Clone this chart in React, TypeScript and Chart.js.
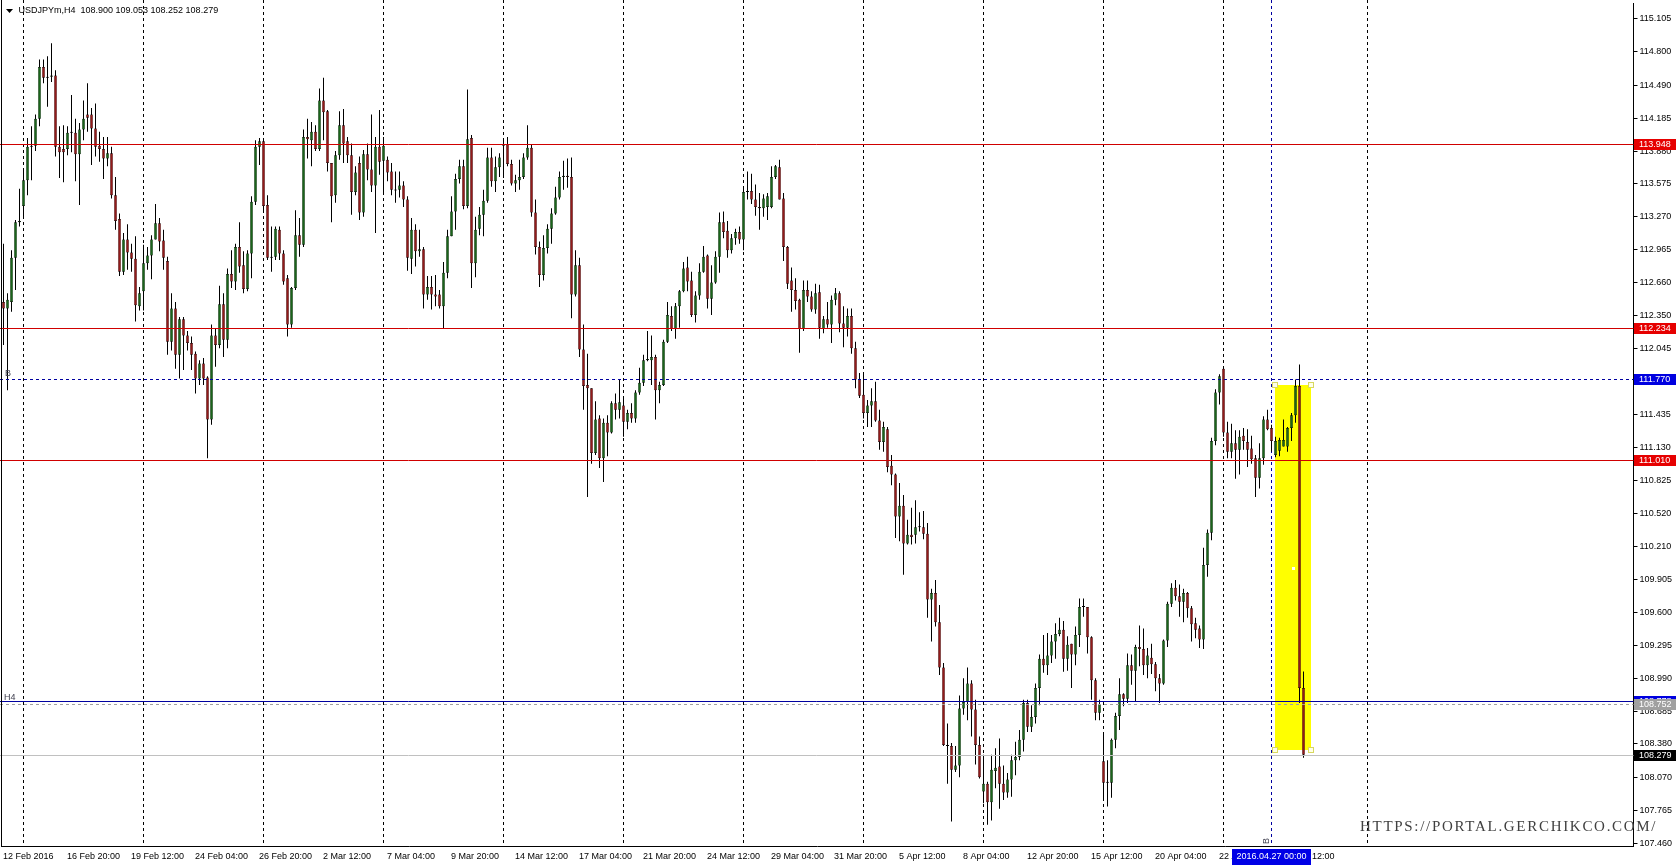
import React, { useEffect, useRef } from 'react';
import { Chart, registerables } from 'chart.js';

Chart.register(...registerables);

// ---------------- data ----------------
const SYMBOL_HEADER = 'USDJPYm,H4  108.900 109.053 108.252 108.279';

const OPEN = [
  112.48, 112.42, 112.48, 112.89, 113.22, 113.37, 113.61, 113.92, 113.93, 114.18,
  114.66, 114.56, 114.57, 114.58, 113.92, 113.90, 113.90, 114.05, 114.05, 113.85,
  114.08, 114.22, 114.22, 114.09, 113.93, 113.90, 113.81, 113.86, 113.47, 113.25,
  112.76, 113.06, 112.94, 112.88, 112.44, 112.58, 112.84, 112.91, 113.06, 113.21,
  113.05, 112.86, 112.11, 112.42, 111.99, 112.32, 112.17, 112.10, 112.00, 111.77,
  111.91, 111.78, 111.39, 112.17, 112.08, 112.46, 112.13, 112.74, 112.67, 112.99,
  112.82, 112.60, 112.93, 113.41, 113.92, 113.97, 113.38, 112.90, 112.90, 113.15,
  112.93, 112.70, 112.27, 112.61, 113.10, 113.01, 114.01, 113.98, 114.06, 113.90,
  114.35, 114.25, 113.77, 113.47, 113.84, 114.12, 113.97, 113.84, 113.50, 113.77,
  113.31, 113.85, 113.71, 113.56, 113.92, 113.79, 113.80, 113.69, 113.52, 113.52,
  113.56, 113.43, 112.88, 113.15, 112.95, 112.97, 112.55, 112.62, 112.55, 112.55,
  112.44, 112.75, 113.09, 113.32, 113.62, 113.74, 113.37, 114.00, 112.84, 113.16,
  113.29, 113.42, 113.82, 113.60, 113.73, 113.93, 113.94, 113.76, 113.58, 113.61,
  113.64, 113.82, 113.91, 113.31, 112.99, 112.73, 112.98, 113.16, 113.30, 113.45,
  113.64, 113.65, 113.64, 112.55, 112.82, 112.04, 111.71, 111.68, 111.08, 111.40,
  111.03, 111.36, 111.27, 111.54, 111.48, 111.52, 111.37, 111.45, 111.40, 111.64,
  111.73, 111.94, 111.94, 111.97, 111.66, 111.71, 112.11, 112.35, 112.23, 112.44,
  112.58, 112.80, 112.68, 112.36, 112.54, 112.76, 112.91, 112.51, 112.66, 112.90,
  113.22, 113.14, 112.96, 113.07, 113.13, 113.06, 113.50, 113.51, 113.43, 113.36,
  113.35, 113.36, 113.36, 113.64, 113.73, 113.44, 112.99, 112.68, 112.59, 112.50,
  112.23, 112.59, 112.53, 112.41, 112.57, 112.23, 112.32, 112.27, 112.50, 112.56,
  112.28, 112.24, 112.35, 112.05, 111.76, 111.62, 111.45, 111.52, 111.56, 111.38,
  111.18, 111.30, 110.96, 110.88, 110.49, 110.59, 110.24, 110.32, 110.32, 110.39,
  110.39, 110.33, 109.72, 109.78, 109.51, 109.09, 108.37, 108.36, 108.14, 108.18,
  108.71, 108.77, 108.94, 108.70, 108.37, 107.94, 108.01, 107.84, 108.13, 108.17,
  108.01, 107.93, 108.05, 108.23, 108.26, 108.42, 108.76, 108.54, 108.63, 108.90,
  109.17, 109.11, 109.20, 109.33, 109.40, 109.44, 109.17, 109.31, 109.21, 109.39,
  109.65, 109.65, 109.37, 108.97, 108.67, 108.22, 108.02, 108.02, 108.42, 108.64,
  108.84, 108.80, 109.11, 109.06, 109.28, 109.26, 109.11, 109.18, 109.12, 108.99,
  108.94, 109.34, 109.68, 109.83, 109.75, 109.70, 109.78, 109.64, 109.50, 109.45,
  109.35, 110.04, 110.34, 111.19, 111.64, 111.86, 111.27, 111.09, 111.17, 111.11,
  111.24, 111.18, 111.12, 111.03, 110.85, 111.03, 111.39, 111.31, 111.06, 111.10,
  111.14, 111.14, 111.31, 111.43, 111.70, 108.900,
];

const HIGH = [
  113.02, 112.56, 112.96, 113.24, 113.53, 113.70, 114.00, 114.11, 114.22, 114.73,
  114.73, 114.76, 114.88, 114.63, 114.11, 114.12, 114.11, 114.40, 114.18, 114.14,
  114.35, 114.51, 114.28, 114.32, 114.06, 114.01, 114.01, 113.92, 113.64, 113.30,
  113.12, 113.20, 113.02, 113.09, 112.62, 113.01, 112.99, 113.10, 113.39, 113.26,
  113.15, 112.90, 112.56, 112.48, 112.34, 112.34, 112.21, 112.16, 112.02, 111.94,
  111.96, 111.79, 112.27, 112.23, 112.63, 112.56, 112.79, 112.96, 113.02, 113.22,
  112.95, 112.96, 113.46, 113.98, 114.00, 113.98, 113.47, 113.18, 113.18, 113.18,
  112.96, 112.73, 112.62, 113.33, 113.26, 114.08, 114.18, 114.15, 114.12, 114.46,
  114.56, 114.26, 113.77, 113.88, 114.25, 114.27, 114.01, 113.95, 113.74, 113.83,
  113.89, 113.95, 114.22, 114.01, 114.26, 114.01, 113.83, 113.77, 113.69, 113.69,
  113.60, 113.46, 113.26, 113.20, 113.15, 112.99, 112.72, 112.72, 112.73, 112.59,
  112.85, 113.15, 113.46, 113.67, 113.80, 113.80, 114.45, 114.03, 113.27, 113.36,
  113.52, 113.91, 113.91, 113.83, 113.86, 113.98, 114.01, 113.80, 113.66, 113.80,
  113.86, 114.12, 113.94, 113.43, 113.04, 113.10, 113.20, 113.35, 113.55, 113.69,
  113.79, 113.81, 113.82, 112.96, 112.89, 112.27, 112.00, 111.68, 111.56, 111.43,
  111.40, 111.43, 111.56, 111.63, 111.76, 111.60, 111.48, 111.54, 111.66, 111.87,
  111.99, 112.21, 112.17, 111.99, 111.74, 112.13, 112.48, 112.44, 112.47, 112.59,
  112.85, 112.90, 112.76, 112.58, 112.84, 113.00, 112.92, 112.82, 112.95, 113.31,
  113.32, 113.23, 113.11, 113.16, 113.18, 113.55, 113.69, 113.67, 113.57, 113.49,
  113.48, 113.49, 113.74, 113.75, 113.80, 113.49, 113.00, 112.80, 112.70, 112.51,
  112.68, 112.68, 112.58, 112.65, 112.64, 112.35, 112.48, 112.54, 112.61, 112.58,
  112.44, 112.42, 112.42, 112.11, 111.82, 111.82, 111.57, 111.68, 111.74, 111.48,
  111.37, 111.32, 111.06, 110.89, 110.80, 110.69, 110.46, 110.57, 110.64, 110.53,
  110.54, 110.43, 109.82, 109.90, 109.67, 109.13, 108.57, 108.39, 108.36, 108.83,
  108.99, 109.09, 108.97, 108.79, 108.45, 108.28, 108.03, 108.28, 108.34, 108.43,
  108.18, 108.11, 108.28, 108.40, 108.51, 108.79, 108.79, 108.74, 108.94, 109.21,
  109.39, 109.41, 109.39, 109.50, 109.55, 109.52, 109.38, 109.31, 109.47, 109.73,
  109.73, 109.65, 109.38, 108.99, 108.79, 108.48, 108.23, 108.43, 108.67, 108.99,
  108.85, 109.22, 109.21, 109.30, 109.48, 109.45, 109.27, 109.31, 109.14, 109.03,
  109.35, 109.70, 109.87, 109.90, 109.86, 109.82, 109.79, 109.66, 109.55, 109.48,
  110.20, 110.37, 111.22, 111.67, 111.81, 111.87, 111.37, 111.35, 111.29, 111.29,
  111.31, 111.30, 111.24, 111.06, 111.17, 111.42, 111.48, 111.34, 111.23, 111.22,
  111.39, 111.32, 111.45, 111.76, 111.90, 109.053,
];

const LOW = [
  112.08, 111.66, 112.39, 112.59, 113.18, 113.27, 113.47, 113.61, 113.88, 114.11,
  114.51, 114.29, 114.52, 113.83, 113.63, 113.59, 113.84, 113.87, 113.60, 113.38,
  113.98, 114.06, 113.75, 113.83, 113.78, 113.62, 113.74, 113.44, 113.15, 112.72,
  112.73, 112.78, 112.76, 112.30, 112.40, 112.40, 112.78, 112.69, 113.06, 112.95,
  112.78, 111.99, 112.03, 111.86, 111.77, 111.85, 112.03, 111.85, 111.63, 111.71,
  111.71, 111.03, 111.34, 111.88, 112.05, 111.97, 112.05, 112.61, 112.59, 112.75,
  112.56, 112.58, 112.70, 113.38, 113.75, 113.33, 112.87, 112.76, 112.87, 112.87,
  112.64, 112.16, 112.24, 112.59, 112.90, 112.99, 113.81, 113.74, 113.88, 113.88,
  113.98, 113.69, 113.22, 113.40, 113.80, 113.77, 113.77, 113.29, 113.47, 113.24,
  113.27, 113.61, 113.50, 113.12, 113.66, 113.50, 113.60, 113.47, 113.40, 113.45,
  113.36, 112.77, 112.74, 112.81, 112.90, 112.42, 112.50, 112.41, 112.44, 112.42,
  112.23, 112.70, 113.09, 113.15, 113.58, 113.34, 113.35, 112.61, 112.71, 113.10,
  113.09, 113.40, 113.55, 113.50, 113.64, 113.63, 113.74, 113.56, 113.50, 113.52,
  113.62, 113.80, 113.27, 112.92, 112.62, 112.68, 112.93, 113.02, 113.29, 113.43,
  113.52, 113.54, 112.33, 112.53, 111.97, 111.48, 110.67, 110.98, 111.06, 110.94,
  110.81, 111.05, 111.26, 111.39, 111.40, 111.23, 111.30, 111.36, 111.36, 111.62,
  111.70, 111.93, 111.71, 111.39, 111.54, 111.70, 112.10, 112.21, 112.14, 112.24,
  112.57, 112.58, 112.34, 112.29, 112.50, 112.75, 112.42, 112.36, 112.65, 112.75,
  113.07, 112.89, 112.93, 113.01, 113.02, 112.96, 113.43, 113.39, 113.28, 113.15,
  113.27, 113.24, 113.35, 113.62, 113.43, 112.86, 112.60, 112.39, 112.41, 112.01,
  112.21, 112.48, 112.39, 112.37, 112.14, 112.19, 112.24, 112.10, 112.45, 112.20,
  112.06, 112.16, 112.00, 111.68, 111.59, 111.40, 111.32, 111.32, 111.37, 111.11,
  111.09, 110.90, 110.78, 110.29, 110.26, 109.95, 110.23, 110.23, 110.24, 110.35,
  110.28, 109.55, 109.33, 109.47, 109.02, 108.36, 108.01, 107.66, 108.12, 108.07,
  108.65, 108.60, 108.45, 108.19, 108.06, 107.83, 107.63, 107.67, 107.97, 107.78,
  107.86, 107.88, 107.89, 108.09, 108.23, 108.31, 108.49, 108.49, 108.57, 108.74,
  109.04, 109.02, 109.13, 109.17, 109.38, 109.05, 109.06, 108.90, 109.11, 109.28,
  109.56, 109.22, 108.79, 108.60, 108.60, 107.85, 107.80, 107.88, 108.34, 108.51,
  108.73, 108.76, 108.93, 108.77, 109.10, 109.02, 108.99, 109.03, 108.87, 108.76,
  108.93, 109.28, 109.65, 109.71, 109.56, 109.51, 109.55, 109.33, 109.36, 109.27,
  109.26, 109.93, 110.27, 111.15, 111.53, 111.23, 111.03, 111.03, 110.84, 110.88,
  111.11, 110.95, 110.98, 110.67, 110.75, 110.97, 111.29, 111.09, 111.04, 111.05,
  111.14, 111.09, 111.19, 111.36, 108.76, 108.252,
];

const CLOSE = [
  112.42, 112.50, 112.89, 113.22, 113.23, 113.61, 113.92, 113.93, 114.18, 114.66,
  114.56, 114.57, 114.58, 113.92, 113.87, 113.87, 114.05, 114.06, 113.85, 114.08,
  114.18, 114.19, 114.09, 113.92, 113.90, 113.81, 113.86, 113.47, 113.23, 112.76,
  113.06, 112.94, 112.88, 112.45, 112.56, 112.84, 112.91, 113.06, 113.21, 113.04,
  112.89, 112.11, 112.42, 111.99, 112.32, 112.17, 112.10, 111.99, 111.77, 111.91,
  111.77, 111.39, 112.17, 112.08, 112.46, 112.13, 112.74, 112.67, 112.99, 112.81,
  112.60, 112.93, 113.41, 113.92, 113.97, 113.37, 112.89, 112.89, 113.16, 112.93,
  112.67, 112.27, 112.61, 113.10, 113.01, 114.01, 113.99, 114.06, 113.90, 114.35,
  114.24, 113.77, 113.46, 113.84, 114.12, 113.95, 113.84, 113.50, 113.68, 113.31,
  113.85, 113.71, 113.56, 113.92, 113.78, 113.93, 113.68, 113.52, 113.515, 113.56,
  113.43, 112.89, 113.15, 112.95, 112.97, 112.55, 112.62, 112.55, 112.53, 112.44,
  112.75, 113.09, 113.32, 113.62, 113.74, 113.37, 113.99, 112.84, 113.15, 113.29,
  113.42, 113.82, 113.60, 113.73, 113.82, 113.94, 113.76, 113.58, 113.61, 113.64,
  113.82, 113.91, 113.31, 112.99, 112.73, 112.98, 113.16, 113.30, 113.45, 113.64,
  113.65, 113.64, 112.55, 112.82, 112.04, 111.70, 111.68, 111.08, 111.39, 111.03,
  111.36, 111.27, 111.54, 111.48, 111.55, 111.37, 111.45, 111.40, 111.64, 111.73,
  111.94, 111.95, 111.97, 111.66, 111.71, 112.11, 112.36, 112.23, 112.44, 112.58,
  112.79, 112.67, 112.36, 112.54, 112.76, 112.90, 112.51, 112.66, 112.90, 113.22,
  113.13, 112.96, 113.07, 113.13, 113.06, 113.50, 113.51, 113.43, 113.36, 113.35,
  113.44, 113.46, 113.64, 113.74, 113.43, 112.99, 112.65, 112.59, 112.49, 112.23,
  112.59, 112.53, 112.41, 112.56, 112.24, 112.32, 112.27, 112.50, 112.56, 112.28,
  112.24, 112.35, 112.05, 111.76, 111.61, 111.45, 111.52, 111.56, 111.38, 111.18,
  111.32, 110.95, 110.88, 110.49, 110.59, 110.24, 110.32, 110.30, 110.39, 110.391,
  110.33, 109.72, 109.78, 109.51, 109.09, 108.37, 108.36, 108.14, 108.18, 108.71,
  108.77, 108.94, 108.70, 108.37, 108.07, 108.01, 107.84, 108.14, 108.16, 108.01,
  107.93, 108.05, 108.23, 108.26, 108.42, 108.76, 108.54, 108.63, 108.90, 109.17,
  109.11, 109.20, 109.33, 109.40, 109.44, 109.17, 109.30, 109.21, 109.39, 109.65,
  109.655, 109.37, 108.97, 108.67, 108.75, 108.02, 108.03, 108.42, 108.64, 108.84,
  108.80, 109.11, 109.06, 109.28, 109.26, 109.11, 109.20, 109.12, 108.99, 108.94,
  109.34, 109.68, 109.83, 109.75, 109.70, 109.78, 109.64, 109.49, 109.44, 109.35,
  110.04, 110.34, 111.19, 111.64, 111.79, 111.27, 111.09, 111.17, 111.11, 111.23,
  111.19, 111.11, 111.02, 110.85, 111.03, 111.39, 111.30, 111.19, 111.19, 111.20,
  111.20, 111.31, 111.43, 111.70, 108.90, 108.279,
];

// time axis: bar slots (data + empty future space), labels every 16 bars
const SLOT_COUNT = 408;
const TIME_LABEL_STEP = 16;
const TIME_LABELS = [
  '12 Feb 2016', '16 Feb 20:00', '19 Feb 12:00', '24 Feb 04:00', '26 Feb 20:00',
  '2 Mar 12:00', '7 Mar 04:00', '9 Mar 20:00', '14 Mar 12:00', '17 Mar 04:00',
  '21 Mar 20:00', '24 Mar 12:00', '29 Mar 04:00', '31 Mar 20:00', '5 Apr 12:00',
  '8 Apr 04:00', '12 Apr 20:00', '15 Apr 12:00', '20 Apr 04:00', '22 Apr 20:00',
  '27 Apr 12:00',
];
const WEEK_GRID_INDEX = [5, 35, 65, 95, 125, 155, 185, 215, 245, 275, 305, 341];

const Y_TICKS = [
  115.105, 114.8, 114.49, 114.185, 113.88, 113.575, 113.27, 112.965, 112.66,
  112.35, 112.045, 111.74, 111.435, 111.13, 110.825, 110.52, 110.21, 109.905,
  109.6, 109.295, 108.99, 108.685, 108.38, 108.07, 107.765, 107.46,
];
const Y_MIN = 107.4334;
const Y_MAX = 115.2534;

const RED_LEVELS = [113.948, 112.234, 111.01];
const BLUE_DASH_LEVEL = 111.77;
const BLUE_LEVEL = 108.778;
const GRAY_DASH_LEVEL = 108.752;
const LAST_PRICE = 108.279;

const CURSOR_INDEX = 317;
const CURSOR_LABEL = '2016.04.27 00:00';
const RECT_INDEX = [317.9, 326.8];
const RECT_PRICE = [111.71, 108.324];

const WATERMARK = 'HTTPS://PORTAL.GERCHIKCO.COM/';

// ---------------- styling ----------------
const FONT = '9px "Liberation Sans", Arial, sans-serif';
const BULL = '#1a651a';
const BEAR = '#921a1a';
const RED_LINE = '#d00000';
const RED_BOX = '#e60000';

const W = 1676;
const H = 867;

function priceBox(ctx: CanvasRenderingContext2D, yPix: number, bg: string, text: string, left: number) {
  const yc = Math.round(yPix);
  ctx.fillStyle = bg;
  ctx.fillRect(left + 1, yc - 5, W - left - 1, 11);
  ctx.fillStyle = '#ffffff';
  ctx.font = FONT;
  ctx.textAlign = 'left';
  ctx.textBaseline = 'middle';
  ctx.fillText(text, left + 6, yc + 0.5);
}

const mt4Plugin = {
  id: 'mt4',
  beforeDatasetsDraw(chart: any) {
    const { ctx, chartArea, scales } = chart;
    const x = scales.x;
    const y = scales.y;
    ctx.save();
    ctx.lineWidth = 1;
    // weekly vertical grid
    ctx.strokeStyle = '#000000';
    ctx.setLineDash([3, 3]);
    for (const i of WEEK_GRID_INDEX) {
      const px = Math.floor(x.getPixelForValue(i)) + 0.5;
      ctx.beginPath();
      ctx.moveTo(px, 0);
      ctx.lineTo(px, chartArea.bottom);
      ctx.stroke();
    }
    // cursor vertical line
    ctx.strokeStyle = '#0000a0';
    ctx.setLineDash([3, 3]);
    const cx = Math.floor(x.getPixelForValue(CURSOR_INDEX)) + 0.5;
    ctx.beginPath();
    ctx.moveTo(cx, 0);
    ctx.lineTo(cx, chartArea.bottom);
    ctx.stroke();
    ctx.setLineDash([]);
    // yellow rectangle
    const x0 = Math.round(x.getPixelForValue(RECT_INDEX[0]));
    const x1 = Math.round(x.getPixelForValue(RECT_INDEX[1]));
    const y0 = Math.round(y.getPixelForValue(RECT_PRICE[0]));
    const y1 = Math.round(y.getPixelForValue(RECT_PRICE[1]));
    ctx.fillStyle = '#ffff00';
    ctx.fillRect(x0, y0, x1 - x0, y1 - y0);
    ctx.restore();
  },
  afterDatasetsDraw(chart: any) {
    const { ctx, chartArea, scales } = chart;
    const x = scales.x;
    const y = scales.y;
    const right = chartArea.right;
    ctx.save();
    ctx.lineWidth = 1;
    const hline = (p: number, color: string, dash: number[]) => {
      const py = Math.round(y.getPixelForValue(p)) + 0.5;
      ctx.strokeStyle = color;
      ctx.setLineDash(dash);
      ctx.beginPath();
      ctx.moveTo(0, py);
      ctx.lineTo(right, py);
      ctx.stroke();
    };
    hline(LAST_PRICE, '#c0c0c0', []);
    hline(GRAY_DASH_LEVEL, '#a0a0a0', [3, 3]);
    hline(BLUE_LEVEL, '#0000a0', []);
    hline(BLUE_DASH_LEVEL, '#0000a0', [3, 3]);
    for (const p of RED_LEVELS) hline(p, RED_LINE, []);
    ctx.setLineDash([]);
    // selection handles of the rectangle
    const x0 = Math.round(x.getPixelForValue(RECT_INDEX[0]));
    const x1 = Math.round(x.getPixelForValue(RECT_INDEX[1]));
    const y0 = Math.round(y.getPixelForValue(RECT_PRICE[0]));
    const y1 = Math.round(y.getPixelForValue(RECT_PRICE[1]));
    ctx.fillStyle = '#ffffe8';
    ctx.strokeStyle = '#d8d860';
    for (const [hx, hy] of [[x0, y0], [x1, y0], [x0, y1], [x1, y1]]) {
      ctx.fillRect(hx - 2, hy - 2, 4, 4);
      ctx.strokeRect(hx - 2.5, hy - 2.5, 5, 5);
    }
    ctx.fillStyle = '#ffffff';
    ctx.fillRect(Math.round((x0 + x1) / 2) - 1, Math.round((y0 + y1) / 2) - 1, 3, 3);
    ctx.restore();
  },
  afterDraw(chart: any) {
    const { ctx, chartArea, scales } = chart;
    const x = scales.x;
    const y = scales.y;
    const right = chartArea.right;
    ctx.save();
    // left frame
    ctx.strokeStyle = '#000000';
    ctx.lineWidth = 1;
    ctx.beginPath();
    ctx.moveTo(1.5, 0);
    ctx.lineTo(1.5, chartArea.bottom);
    ctx.stroke();

    // price boxes on the right axis
    const left = Math.floor(right);
    priceBox(ctx, y.getPixelForValue(BLUE_LEVEL), '#0000e0', BLUE_LEVEL.toFixed(3), left);
    priceBox(ctx, y.getPixelForValue(GRAY_DASH_LEVEL), '#a0a0a0', GRAY_DASH_LEVEL.toFixed(3), left);
    priceBox(ctx, y.getPixelForValue(LAST_PRICE), '#000000', LAST_PRICE.toFixed(3), left);
    for (const p of RED_LEVELS) priceBox(ctx, y.getPixelForValue(p), RED_BOX, p.toFixed(3), left);
    priceBox(ctx, y.getPixelForValue(BLUE_DASH_LEVEL), '#0000e0', BLUE_DASH_LEVEL.toFixed(3), left);

    // line captions
    ctx.font = FONT;
    ctx.fillStyle = '#404050';
    ctx.textAlign = 'left';
    ctx.textBaseline = 'alphabetic';
    ctx.fillText('B', 5, Math.round(y.getPixelForValue(BLUE_DASH_LEVEL)) - 3);
    ctx.fillText('H4', 4, Math.round(y.getPixelForValue(BLUE_LEVEL)) - 1);
    const cx = Math.floor(x.getPixelForValue(CURSOR_INDEX)) + 0.5;
    ctx.save();
    ctx.translate(cx - 3, chartArea.bottom - 2);
    ctx.rotate(-Math.PI / 2);
    ctx.fillText('B', 0, 0);
    ctx.restore();

    // time labels
    ctx.fillStyle = '#000000';
    ctx.textBaseline = 'middle';
    TIME_LABELS.forEach((t, k) => {
      const px = Math.round(x.getPixelForValue(k * TIME_LABEL_STEP)) - 1;
      ctx.fillText(t, px, 857);
    });
    // cursor time box
    const bx = Math.round(x.getPixelForValue(CURSOR_INDEX)) - 40;
    ctx.fillStyle = '#0000e6';
    ctx.fillRect(bx, 849, 79, 16);
    ctx.fillStyle = '#ffffff';
    ctx.textAlign = 'center';
    ctx.fillText(CURSOR_LABEL, bx + 39.5, 857);

    // header
    ctx.fillStyle = '#000000';
    ctx.beginPath();
    ctx.moveTo(6, 9);
    ctx.lineTo(13, 9);
    ctx.lineTo(9.5, 13);
    ctx.closePath();
    ctx.fill();
    ctx.textAlign = 'left';
    ctx.fillText(SYMBOL_HEADER, 18.5, 11);

    // watermark
    ctx.font = '15px "Liberation Serif", "Times New Roman", serif';
    (ctx as any).letterSpacing = '1.7px';
    ctx.fillStyle = '#404040';
    ctx.textBaseline = 'alphabetic';
    ctx.fillText(WATERMARK, 1360, 831);
    ctx.restore();
  },
};

export default function App() {
  const ref = useRef<HTMLCanvasElement | null>(null);

  useEffect(() => {
    const canvas = ref.current;
    if (!canvas) return;
    const n = OPEN.length;
    const labels = Array.from({ length: SLOT_COUNT }, (_, i) => String(i));
    const bodies = labels.map((_, i) =>
      i < n ? [Math.min(OPEN[i], CLOSE[i]), Math.max(OPEN[i], CLOSE[i])] : null
    );
    const wicks = labels.map((_, i) => (i < n ? [LOW[i], HIGH[i]] : null));
    const colors = labels.map((_, i) => (i < n && CLOSE[i] >= OPEN[i] ? BULL : BEAR));

    const chart = new Chart(canvas, {
      type: 'bar',
      data: {
        labels,
        datasets: [
          {
            label: 'body',
            data: bodies as any,
            backgroundColor: colors,
            borderColor: '#000000',
            borderWidth: 0.5,
            borderSkipped: false,
            barThickness: 3,
            minBarLength: 1,
            grouped: false,
            inflateAmount: 0,
            order: 0,
          } as any,
          {
            label: 'wick',
            data: wicks as any,
            backgroundColor: '#000000',
            borderWidth: 0,
            barThickness: 1,
            grouped: false,
            inflateAmount: 0,
            order: 1,
          } as any,
        ],
      },
      options: {
        responsive: false,
        animation: false,
        devicePixelRatio: 1,
        events: [],
        layout: { padding: { left: 1.5, top: 3, right: 0, bottom: 0 } },
        plugins: { legend: { display: false }, tooltip: { enabled: false } },
        scales: {
          x: {
            type: 'category',
            offset: true,
            ticks: { display: false },
            grid: { display: false, drawTicks: false },
            border: { display: true, color: '#000000', width: 1 },
            afterFit: (s: any) => {
              s.height = 21;
              s.paddingLeft = 0;
              s.paddingRight = 0;
            },
          },
          y: {
            type: 'linear',
            position: 'right',
            min: Y_MIN,
            max: Y_MAX,
            bounds: 'data',
            afterBuildTicks: (s: any) => {
              s.ticks = Y_TICKS.map((v) => ({ value: v }));
            },
            ticks: {
              autoSkip: false,
              padding: 2,
              color: '#000000',
              font: { family: '"Liberation Sans", Arial, sans-serif', size: 9 },
              callback: (v: any) => Number(v).toFixed(3),
            },
            grid: { drawOnChartArea: false, drawTicks: true, tickLength: 4, color: '#000000' },
            border: { display: true, color: '#000000', width: 1 },
            afterFit: (s: any) => {
              s.width = 42.5;
              s.paddingTop = 0;
              s.paddingBottom = 0;
            },
          },
        },
      } as any,
      plugins: [mt4Plugin],
    });
    return () => chart.destroy();
  }, []);

  return (
    <div style={{ position: 'absolute', left: 0, top: 0, width: W, height: H, background: '#ffffff' }}>
      <canvas ref={ref} width={W} height={H} style={{ display: 'block' }} />
    </div>
  );
}
